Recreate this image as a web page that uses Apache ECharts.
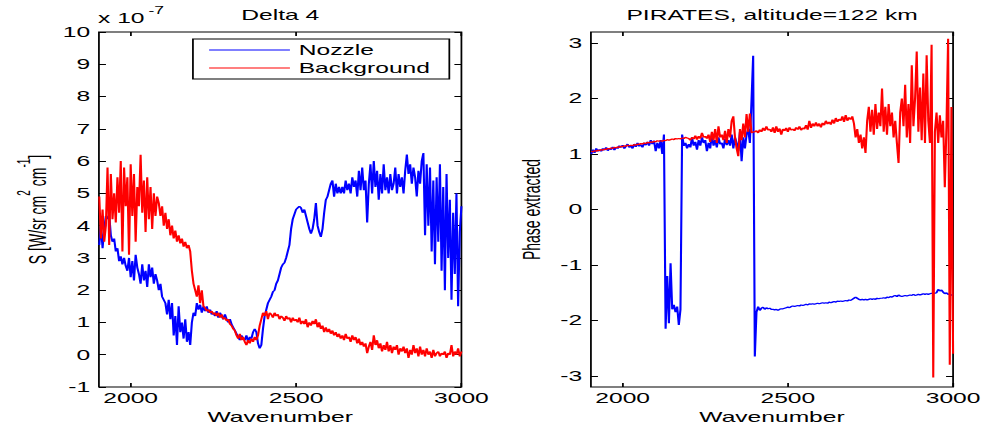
<!DOCTYPE html>
<html>
<head>
<meta charset="utf-8">
<script src="https://cdn.jsdelivr.net/npm/echarts@6/dist/echarts.min.js"></script>
<style>
html,body{margin:0;padding:0;background:#fff;overflow:hidden;width:984px;height:426px;}
#wrap{width:560px;height:426px;transform:scale(1.7571429,1);transform-origin:0 0;}
</style>
</head>
<body>
<div id="wrap"></div>
<script>
// ---- data ----
const wavenumber = [
1905,1910,1915,1920,1925,1930,1935,1940,1945,1950,
1955,1960,1965,1970,1975,1980,1985,1990,1995,2000,
2005,2010,2015,2020,2025,2030,2035,2040,2045,2050,
2055,2060,2065,2070,2075,2080,2085,2090,2095,2100,
2105,2110,2115,2120,2125,2130,2135,2140,2145,2150,
2155,2160,2165,2170,2175,2180,2185,2190,2195,2200,
2205,2210,2215,2220,2225,2230,2235,2240,2245,2250,
2255,2260,2265,2270,2275,2280,2285,2290,2295,2300,
2305,2310,2315,2320,2325,2330,2335,2340,2345,2350,
2355,2360,2365,2370,2375,2380,2385,2390,2395,2400,
2405,2410,2415,2420,2425,2430,2435,2440,2445,2450,
2455,2460,2465,2470,2475,2480,2485,2490,2495,2500,
2505,2510,2515,2520,2525,2530,2535,2540,2545,2550,
2555,2560,2565,2570,2575,2580,2585,2590,2595,2600,
2605,2610,2615,2620,2625,2630,2635,2640,2645,2650,
2655,2660,2665,2670,2675,2680,2685,2690,2695,2700,
2705,2710,2715,2720,2725,2730,2735,2740,2745,2750,
2755,2760,2765,2770,2775,2780,2785,2790,2795,2800,
2805,2810,2815,2820,2825,2830,2835,2840,2845,2850,
2855,2860,2865,2870,2875,2880,2885,2890,2895,2900,
2905,2910,2915,2920,2925,2930,2935,2940,2945,2950,
2955,2960,2965,2970,2975,2980,2985,2990,2995,3000
];

// Delta 4, S [W/sr cm^2 cm^-1] in units of 1e-7
const delta4Nozzle = [
3.4,4.0,3.3,3.9,4.3,            // 1905-1925
4.2,4.35,3.7,3.5,3.6,           // 1930-1950
3.2,3.3,2.9,3.05,2.8,3.0,2.75,2.6, // 1955-1990
3.0,2.4,2.9,2.3,3.1,2.7,        // 1995-2020
2.5,2.2,2.8,2.3,2.6,2.1,2.8,2.4,2.7,2.2,2.5,2.3, // 2025-2080
2.0,2.2,1.8,1.7,                // 2085-2100
1.6,1.25,1.7,1.1,1.6,           // 2105-2125
0.6,1.2,0.3,1.5,                // 2130-2145
0.7,1.0,0.5,1.1,0.4,0.7,        // 2150-2175
0.3,1.0,1.3,1.2,                // 2180-2195
1.6,1.4,1.55,1.3,1.5,1.35,1.5,1.3,1.4,1.25, // 2200-2245
1.3,1.2,1.35,1.15,1.3,1.2,1.1,1.25,1.1,1.0,1.1,0.95,0.85,0.75, // 2250-2315
0.65,0.55,0.45,0.6,0.5,         // 2320-2340
0.45,0.6,0.4,0.55,0.5,0.7,0.8,  // 2345-2375
0.7,0.35,0.2,0.3,               // 2380-2395
0.8,1.2,1.4,1.6,1.7,            // 2400-2420
1.8,1.95,2.0,2.2,               // 2425-2440
2.3,2.5,2.7,2.8,2.85,3.0,3.2,3.4, // 2445-2480
3.9,4.2,4.35,4.5,4.55,4.6,4.55,4.4, // 2485-2520
4.5,4.3,4.1,3.9,3.75,3.9,       // 2525-2550
4.2,4.7,4.0,3.8,3.65,3.9,       // 2555-2580
4.4,4.8,4.9,5.1,5.3,            // 2585-2605
5.4,4.9,5.3,5.0,5.2,            // 2610-2630
5.0,5.2,5.0,5.4,5.1,5.3,        // 2635-2660
5.0,5.5,5.2,5.4,4.9,5.7,5.1,    // 2665-2695
5.8,5.1,5.4,4.1,5.3,            // 2700-2720
5.9,5.0,6.0,5.2,5.7,4.8,        // 2725-2750
5.6,5.0,5.9,5.1,5.5,5.0,        // 2755-2780
5.6,5.1,5.3,5.8,5.0,5.6,5.2,5.5,5.0,5.7, // 2785-2830
6.2,5.6,5.9,5.3,5.8,            // 2835-2855
5.5,4.9,5.7,5.3,6.0,            // 2860-2880
6.25,3.7,5.9,                   // 2885-2895
4.0,5.8,3.2,5.4,2.8,5.5,        // 2900-2925
3.5,5.9,2.6,5.2,2.0,5.6,3.0,4.8, // 2930-2965
1.7,4.4,2.5,5.0,1.5,3.8,4.6     // 2970-3000
];

const delta4Background = [
4.9,3.6,4.5,3.5,4.0,            // 1905-1925
5.8,3.4,5.6,4.2,5.0,            // 1930-1950
4.1,5.5,4.4,6.0,3.2,5.8,4.6,5.5, // 1955-1990
3.1,5.9,4.3,5.6,3.5,5.2,        // 1995-2020
4.6,6.2,4.4,5.4,3.8,5.5,4.2,5.2,3.9,5.0,4.3,4.9, // 2025-2080
4.7,4.3,4.6,4.0,                // 2085-2100
4.4,3.9,4.2,3.7,4.0,            // 2105-2125
3.6,3.85,3.5,3.7,               // 2130-2145
3.45,3.6,3.35,3.5,3.3,3.4,      // 2150-2175
3.2,2.6,2.2,2.0,                // 2180-2195
1.8,2.15,1.6,2.0,1.5,1.45,1.35,1.4,1.3,1.35, // 2200-2245
1.25,1.3,1.2,1.3,1.15,1.25,1.1,1.15,1.05,1.1,0.95,0.9,0.8,0.75, // 2250-2315
0.6,0.5,0.65,0.45,0.55,         // 2320-2340
0.4,0.3,0.45,0.35,0.5,0.4,0.55, // 2345-2375
0.45,0.6,0.9,1.1,               // 2380-2395
1.3,1.2,1.35,1.1,1.3,           // 2400-2420
1.25,1.15,1.3,1.2,              // 2425-2440
1.25,1.1,1.2,1.15,1.05,1.2,1.1,1.15, // 2445-2480
1.0,1.15,1.05,1.1,1.0,1.15,0.95,1.05, // 2485-2520
0.95,1.1,0.85,1.0,0.9,1.05,     // 2525-2550
0.95,1.1,0.85,1.0,0.8,0.9,      // 2555-2580
0.7,0.85,0.7,0.8,0.65,          // 2585-2605
0.75,0.6,0.7,0.55,0.65,         // 2610-2630
0.5,0.6,0.45,0.65,0.5,0.55,     // 2635-2660
0.4,0.6,0.45,0.55,0.35,0.5,0.3, // 2665-2695
0.4,0.25,0.35,0.05,0.25,        // 2700-2720
0.4,0.15,0.6,0.3,0.45,0.2,      // 2725-2750
0.35,0.1,0.3,0.15,0.4,0.1,      // 2755-2780
0.3,0.05,0.25,0.15,0.3,0.0,0.2,0.1,0.25,0.05, // 2785-2830
0.2,-0.1,0.15,0.0,0.3,          // 2835-2855
0.05,0.2,-0.05,0.25,0.0,        // 2860-2880
0.15,-0.05,0.2,                 // 2885-2895
0.0,0.1,-0.1,0.15,-0.05,0.05,   // 2900-2925
0.1,-0.05,0.05,0.0,0.1,-0.1,0.05,0.0, // 2930-2965
0.3,-0.05,0.1,0.0,0.2,-0.05,0.1 // 2970-3000
];

// PIRATES, altitude=122 km, phase extracted
const piratesNozzle = [
1.0,1.08,1.02,1.1,1.05,         // 1905-1925
1.08,1.05,1.1,1.07,1.12,        // 1930-1950
1.06,1.1,1.08,1.13,1.07,1.12,1.1,1.15, // 1955-1990
1.12,1.16,1.1,1.14,1.18,1.12,   // 1995-2020
1.15,1.1,1.18,1.13,1.2,1.14,1.17,1.12,1.2,1.16,1.22,1.15, // 2025-2080
1.25,1.18,1.24,1.05,            // 2085-2100
1.2,1.1,1.25,1.0,1.35,          // 2105-2125
-2.15,-1.2,-2.05,-0.97,         // 2130-2145
-1.8,-1.72,-1.85,-1.75,-2.08,-1.8, // 2150-2175
1.35,1.15,1.2,1.1,              // 2180-2195
1.18,1.12,1.3,1.15,1.22,1.08,1.25,1.15,1.3,1.2, // 2200-2245
1.25,1.05,1.2,1.1,1.35,1.15,1.25,1.12,1.3,1.18,1.2,1.1,1.28,1.16, // 2250-2315
1.25,1.15,1.35,1.1,1.3,         // 2320-2340
1.2,1.05,1.4,0.87,1.3,1.1,1.35, // 2345-2375
1.45,1.2,1.96,2.77,             // 2380-2395
-2.65,-1.85,-1.75,-1.82,-1.78,  // 2400-2420
-1.76,-1.8,-1.77,-1.79,         // 2425-2440
-1.78,-1.8,-1.8,-1.81,-1.8,-1.82,-1.8,-1.79, // 2445-2480
-1.79,-1.78,-1.77,-1.76,-1.77,-1.75,-1.74,-1.75, // 2485-2520
-1.74,-1.73,-1.74,-1.72,-1.73,-1.72, // 2525-2550
-1.71,-1.72,-1.70,-1.71,-1.70,-1.71, // 2555-2580
-1.70,-1.69,-1.70,-1.69,-1.68,  // 2585-2605
-1.69,-1.68,-1.69,-1.67,-1.68,  // 2610-2630
-1.67,-1.66,-1.67,-1.65,-1.66,-1.65, // 2635-2660
-1.66,-1.65,-1.64,-1.65,-1.63,-1.64,-1.62, // 2665-2695
-1.6,-1.58,-1.6,-1.62,-1.63,    // 2700-2720
-1.62,-1.63,-1.62,-1.63,-1.62,-1.61, // 2725-2750
-1.62,-1.61,-1.62,-1.6,-1.61,-1.6, // 2755-2780
-1.6,-1.59,-1.6,-1.58,-1.59,-1.57,-1.58,-1.56,-1.55,-1.57, // 2785-2830
-1.54,-1.56,-1.57,-1.56,-1.55,  // 2835-2855
-1.56,-1.55,-1.54,-1.55,-1.53,  // 2860-2880
-1.55,-1.54,-1.53,              // 2885-2895
-1.54,-1.53,-1.52,-1.53,-1.52,-1.53, // 2900-2925
-1.52,-1.51,-1.52,-1.51,-1.5,-1.44,-1.47,-1.45, // 2930-2965
-1.49,-1.52,-1.5,-1.53,-1.52,-1.55,-1.53 // 2970-3000
];

const piratesBackground = [
1.05,1.04,1.06,1.05,1.07,       // 1905-1925
1.06,1.08,1.07,1.09,1.08,       // 1930-1950
1.1,1.09,1.11,1.1,1.12,1.11,1.13,1.12, // 1955-1990
1.14,1.13,1.15,1.14,1.16,1.15,  // 1995-2020
1.16,1.15,1.17,1.16,1.18,1.17,1.19,1.18,1.2,1.19,1.21,1.2, // 2025-2080
1.22,1.21,1.23,1.22,            // 2085-2100
1.24,1.23,1.24,1.23,1.25,       // 2105-2125
1.24,1.26,1.25,1.26,            // 2130-2145
1.27,1.26,1.28,1.27,1.28,1.27,  // 2150-2175
1.29,1.28,1.3,1.29,             // 2180-2195
1.28,1.25,1.3,1.27,1.33,1.26,1.32,1.28,1.38,1.3, // 2200-2245
1.32,1.28,1.35,1.22,1.4,1.25,1.45,1.2,1.5,1.3,1.35,1.25,1.42,1.2, // 2250-2315
1.45,1.3,1.6,1.68,1.3,          // 2320-2340
1.1,0.96,1.45,1.25,1.55,1.3,1.72, // 2345-2375
1.4,1.73,1.38,1.4,              // 2380-2395
1.4,1.42,1.38,1.44,1.4,         // 2400-2420
1.47,1.42,1.5,1.43,             // 2425-2440
1.45,1.4,1.48,1.38,1.5,1.4,1.46,1.35, // 2445-2480
1.45,1.42,1.47,1.4,1.48,1.43,1.45,1.42, // 2485-2520
1.48,1.44,1.5,1.43,1.47,1.45,   // 2525-2550
1.52,1.44,1.6,1.47,1.55,1.5,    // 2555-2580
1.57,1.5,1.55,1.48,1.56,        // 2585-2605
1.52,1.6,1.54,1.58,1.53,        // 2610-2630
1.62,1.55,1.65,1.58,1.63,1.6,   // 2635-2660
1.68,1.58,1.7,1.6,1.66,1.62,1.68, // 2665-2695
1.55,1.3,1.45,1.2,1.35,         // 2700-2720
1.1,1.3,1.02,1.6,1.85,1.4,      // 2725-2750
1.8,1.35,1.9,1.45,1.75,1.5,     // 2755-2780
2.18,1.4,1.85,1.35,1.9,1.5,1.75,1.3,1.6,1.2, // 2785-2830
0.84,1.75,2.0,1.5,2.25,         // 2835-2855
1.3,1.9,1.2,2.6,1.5,            // 2860-2880
2.0,2.85,1.4,                   // 2885-2895
2.2,1.25,2.45,1.2,2.78,1.6,     // 2900-2925
1.2,2.97,-3.03,1.4,1.75,1.2,1.7,1.3, // 2930-2965
1.6,0.4,1.5,3.08,-2.8,1.85,-2.6 // 2970-3000
];

const xTicks = [2000, 2500, 3000];
const delta4YTicks = [-1, 0, 1, 2, 3, 4, 5, 6, 7, 8, 9, 10];
const piratesYTicks = [-3, -2, -1, 0, 1, 2, 3];

// ---- chart ----
const FONT = 'Liberation Sans';
const TXT = {fontFamily: FONT, fontSize: 14, color: '#000'};
const pairs = arr => wavenumber.map((w, i) => [w, arr[i]]);
const plain = v => String(v);

const grids = [
  {left: 56.3, top: 32, width: 206.3, height: 355},
  {left: 336.3, top: 32, width: 206.1, height: 355}
];

function xAxisDef(gi, pos, withLabels) {
  return {
    type: 'value', gridIndex: gi, position: pos, min: 1904, max: 3000,
    axisLine: {show: false, onZero: false}, splitLine: {show: false},
    axisTick: {show: true, inside: true, length: 4, customValues: xTicks, lineStyle: {color: '#000', width: 1}},
    axisLabel: {show: withLabels, customValues: xTicks, margin: 4, formatter: plain, ...TXT},
    name: withLabels ? 'Wavenumber' : '', nameLocation: 'middle', nameGap: 22,
    nameTextStyle: TXT
  };
}
function yAxisDef(gi, pos, min, max, ticks, withLabels, name, nameGap, rich) {
  return {
    type: 'value', gridIndex: gi, position: pos, min: min, max: max,
    axisLine: {show: false, onZero: false}, splitLine: {show: false},
    axisTick: {show: true, inside: true, length: 4, customValues: ticks, lineStyle: {color: '#000', width: 1}},
    axisLabel: {show: withLabels, customValues: ticks, margin: 5, formatter: plain, ...TXT},
    name: name, nameLocation: 'middle', nameGap: nameGap, nameRotate: 90,
    nameTextStyle: Object.assign({}, TXT, rich ? {rich: rich} : {})
  };
}

const supRich = {
  a: {fontFamily: FONT, fontSize: 14, color: '#000', verticalAlign: 'bottom', lineHeight: 20},
  s: {fontFamily: FONT, fontSize: 10, color: '#000', verticalAlign: 'top', lineHeight: 12}
};

const lineSeries = (name, color, xi, yi, arr) => ({
  type: 'line', name: name, xAxisIndex: xi, yAxisIndex: yi, data: pairs(arr),
  symbol: 'none', showSymbol: false, clip: true, animation: false,
  lineStyle: {color: color, width: 1.2}, itemStyle: {color: color}
});

const option = {
  animation: false,
  backgroundColor: '#fff',
  textStyle: {fontFamily: FONT},
  title: [
    {text: 'Delta 4', left: 159.5, top: 8, textAlign: 'center', padding: 0,
     textStyle: {fontFamily: FONT, fontSize: 14, fontWeight: 'normal', color: '#000'}},
    {text: 'PIRATES, altitude=122 km', left: 439.4, top: 8, textAlign: 'center', padding: 0,
     textStyle: {fontFamily: FONT, fontSize: 14, fontWeight: 'normal', color: '#000'}}
  ],
  legend: {
    show: true, data: ['Nozzle', 'Background'], orient: 'vertical',
    left: 109.8, top: 39, padding: [4, 11, 4, 8.6], itemGap: 4,
    itemWidth: 46, itemHeight: 14, selectedMode: false,
    borderColor: '#000', borderWidth: 1, backgroundColor: '#fff',
    itemStyle: {opacity: 0},
    lineStyle: {width: 1.2},
    textStyle: TXT
  },
  graphic: [
    {type: 'text', left: 55.8, top: 11, style: {text: 'x 10', font: '14px "Liberation Sans"', fill: '#000'}},
    {type: 'text', left: 84.5, top: 5, style: {text: '-7', font: '10px "Liberation Sans"', fill: '#000'}}
  ],
  grid: grids.map(g => Object.assign({show: true, borderColor: '#000', borderWidth: 1, backgroundColor: '#fff', containLabel: false, outerBoundsMode: 'none'}, g)),
  xAxis: [
    xAxisDef(0, 'bottom', true),
    xAxisDef(0, 'top', false),
    xAxisDef(1, 'bottom', true),
    xAxisDef(1, 'top', false)
  ],
  yAxis: [
    yAxisDef(0, 'left', -1, 10, delta4YTicks, true,
      '{a|S [W/sr cm}{s|2}{a| cm}{s|-1}{a|]}', 28, supRich),
    yAxisDef(0, 'right', -1, 10, delta4YTicks, false, '', 0, null),
    yAxisDef(1, 'left', -3.2, 3.2, piratesYTicks, true, 'Phase extracted', 27, null),
    yAxisDef(1, 'right', -3.2, 3.2, piratesYTicks, false, '', 0, null)
  ],
  series: [
    lineSeries('Nozzle', '#0000ff', 0, 0, delta4Nozzle),
    lineSeries('Background', '#ff0000', 0, 0, delta4Background),
    lineSeries('Nozzle', '#0000ff', 2, 2, piratesNozzle),
    lineSeries('Background', '#ff0000', 2, 2, piratesBackground)
  ]
};

const chart = echarts.init(document.getElementById('wrap'), null, {renderer: 'svg', width: 560, height: 426});
chart.setOption(option);
</script>
</body>
</html>
